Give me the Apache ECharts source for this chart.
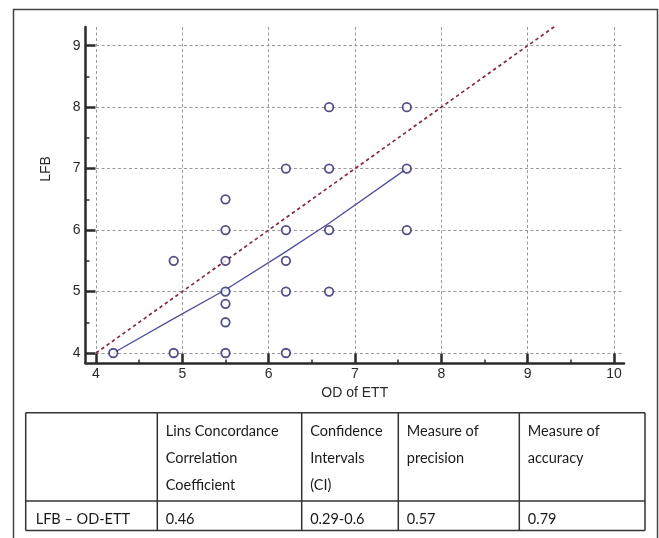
<!DOCTYPE html>
<html>
<head>
<meta charset="utf-8">
<script src="https://cdn.jsdelivr.net/npm/echarts@6/dist/echarts.min.js"></script>
<style>html,body{margin:0;padding:0;background:#fff;}#chart{width:659px;height:538px;}</style>
</head>
<body>
<div id="chart"></div>
<script>
// ---- data ----
const odETT = [4.2, 4.9, 5.5, 6.2, 4.9, 5.5, 5.5, 5.5, 5.5, 5.5, 5.5, 6.2, 6.2, 6.2, 6.2, 6.7, 6.7, 6.7, 6.7, 7.6, 7.6, 7.6];
const lfb   = [4,   4,   4,   4,   5.5, 6,   5.5, 5,   4.8, 4.5, 6.5, 6,   5.5, 5,   7,   8,   7,   6,   5,   8,   7,   6];
const fitX = [4.2, 4.9, 5.5, 6.2, 6.7, 7.6];
const fitY = [4.0, 4.56, 5.03, 5.65, 6.11, 7.0];
const identityX = [4, 9.33];
const identityY = [4, 9.33];
const xName = 'OD of ETT';
const yName = 'LFB';
const tableHeader = ['', 'Lins Concordance\nCorrelation\nCoefficient', 'Confidence\nIntervals\n(CI)', 'Measure of\nprecision', 'Measure of\naccuracy'];
const tableRow = ['LFB \u2013 OD-ETT', '0.46', '0.29-0.6', '0.57', '0.79'];

// ---- layout ----
const colEdges = [25.7, 157.3, 301.7, 398.3, 519.3, 645];
const rowEdges = [412.7, 501, 530.5];
const txtFont = '14.5px Lato, "Open Sans", sans-serif';
const axisColor = '#2a2a2a';
const labelFont = '"Liberation Sans", Arial, sans-serif';

const chart = echarts.init(document.getElementById('chart'), null, {renderer: 'canvas'});

const graphics = [];
graphics.push({type: 'rect', shape: {x: 13.5, y: 9.5, width: 644, height: 540}, style: {fill: 'none', stroke: '#444', lineWidth: 1.5}, silent: true});
rowEdges.forEach(y => graphics.push({type: 'line', shape: {x1: colEdges[0], y1: y, x2: colEdges[colEdges.length - 1], y2: y}, style: {stroke: '#333', lineWidth: 1.5}}));
colEdges.forEach(x => graphics.push({type: 'line', shape: {x1: x, y1: rowEdges[0], x2: x, y2: rowEdges[rowEdges.length - 1]}, style: {stroke: '#333', lineWidth: 1.5}}));
tableHeader.forEach((t, i) => {
  if (!t) return;
  graphics.push({type: 'text', style: {text: t, x: colEdges[i] + 8.5, y: 418, font: txtFont, fill: '#1a1a1a', verticalAlign: 'top', lineHeight: 27}});
});
tableRow.forEach((t, i) => {
  graphics.push({type: 'text', style: {text: t, x: colEdges[i] + (i === 0 ? 10 : 8.5), y: 519, font: txtFont, fill: '#1a1a1a', verticalAlign: 'middle'}});
});
graphics.push({type: 'text', x: 46.5, y: 169, rotation: Math.PI / 2, style: {text: yName, x: 0, y: 0, font: '14px ' + labelFont, fill: '#2a2a2a', align: 'center', verticalAlign: 'middle'}});

const option = {
  animation: false,
  backgroundColor: '#fff',
  grid: [
    {left: 96, top: 45.7, width: 518, height: 307.3},   // ticks & labels
    {left: 96, top: 27, width: 528, height: 326},       // data & split lines
    {left: 85.5, top: 27, width: 538.5, height: 336}    // axis lines
  ],
  xAxis: [
    {gridIndex: 0, type: 'value', min: 4, max: 10, interval: 1, offset: 10.5,
     axisLine: {show: false}, splitLine: {show: false},
     axisTick: {show: true, inside: true, length: 10, lineStyle: {color: axisColor, width: 2.5}},
     minorTick: {show: true, splitNumber: 2, length: 4, lineStyle: {color: axisColor, width: 1.5}},
     axisLabel: {margin: 4, color: '#2a2a2a', fontSize: 14, fontFamily: labelFont}},
    {gridIndex: 1, type: 'value', min: 4, max: 10.116, interval: 1,
     axisLine: {show: false}, axisTick: {show: false}, axisLabel: {show: false},
     splitLine: {show: true, showMinLine: true, showMaxLine: false, lineStyle: {color: '#9a9a9a', width: 1, type: [3, 2.5]}}},
    {gridIndex: 2, type: 'value', min: 0, max: 1,
     axisLine: {show: true, lineStyle: {color: axisColor, width: 2.5}}, axisTick: {show: false}, axisLabel: {show: false}, splitLine: {show: false},
     name: xName, nameLocation: 'middle', nameGap: 23, nameTextStyle: {color: '#2a2a2a', fontSize: 14, fontFamily: labelFont}}
  ],
  yAxis: [
    {gridIndex: 0, type: 'value', min: 4, max: 9, interval: 1, offset: 10.5,
     axisLine: {show: false}, splitLine: {show: false},
     axisTick: {show: true, inside: true, length: 10, lineStyle: {color: axisColor, width: 2.5}},
     minorTick: {show: true, splitNumber: 2, length: 4, lineStyle: {color: axisColor, width: 1.5}},
     axisLabel: {margin: 5, color: '#2a2a2a', fontSize: 14, fontFamily: labelFont}},
    {gridIndex: 1, type: 'value', min: 4, max: 9.304, interval: 1,
     axisLine: {show: false}, axisTick: {show: false}, axisLabel: {show: false},
     splitLine: {show: true, showMinLine: true, showMaxLine: false, lineStyle: {color: '#9a9a9a', width: 1, type: [3, 2.5]}}},
    {gridIndex: 2, type: 'value', min: 0, max: 1,
     axisLine: {show: true, lineStyle: {color: axisColor, width: 2.5}}, axisTick: {show: false}, axisLabel: {show: false}, splitLine: {show: false}}
  ],
  series: [
    {type: 'line', xAxisIndex: 1, yAxisIndex: 1, data: identityX.map((x, i) => [x, identityY[i]]),
     showSymbol: false, symbol: 'none', lineStyle: {color: '#862c3c', width: 1.7, type: [3.5, 3]}, z: 3},
    {type: 'line', xAxisIndex: 1, yAxisIndex: 1, data: fitX.map((x, i) => [x, fitY[i]]),
     showSymbol: false, symbol: 'none', lineStyle: {color: '#4f4f9c', width: 1.3}, z: 3},
    {type: 'scatter', xAxisIndex: 1, yAxisIndex: 1, data: odETT.map((x, i) => [x, lfb[i]]),
     symbol: 'circle', symbolSize: 8.5, itemStyle: {color: '#fff', borderColor: '#262668', borderWidth: 1.8}, z: 4}
  ],
  graphic: graphics
};
chart.setOption(option);
</script>
</body>
</html>
